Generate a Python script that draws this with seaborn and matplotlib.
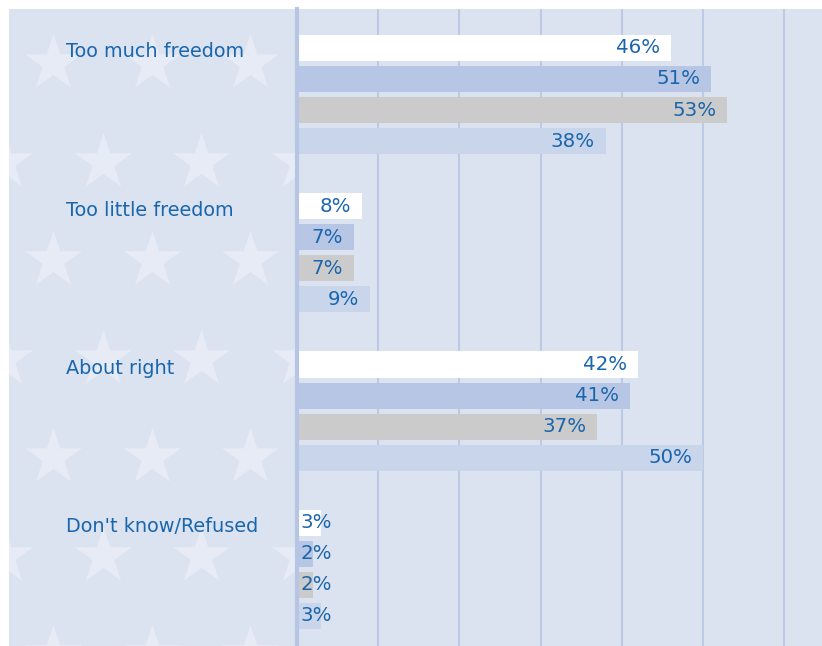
import matplotlib
matplotlib.use("Agg")
import matplotlib.pyplot as plt
import matplotlib.transforms as mtransforms
import pandas as pd
import seaborn as sns

# data
categories = ["Too much freedom", "Too little freedom", "About right", "Don't know/Refused"]
series = ["Series 1", "Series 2", "Series 3", "Series 4"]
series_1 = [46, 8, 42, 3]
series_2 = [51, 7, 41, 2]
series_3 = [53, 7, 37, 2]
series_4 = [38, 9, 50, 3]

bar_colors = ["#ffffff", "#b7c6e4", "#cbcbcb", "#c9d5eb"]
bg = "#dce3f0"
text_color = "#1a66ad"
grid_color = "#bccae5"

rows = []
for name, vals in zip(series, [series_1, series_2, series_3, series_4]):
    for cat, v in zip(categories, vals):
        rows.append({"category": cat, "series": name, "value": v})
df = pd.DataFrame(rows)

sns.set_style("white")
plt.rcParams["font.family"] = ["DejaVu Sans"]

W, H = 822, 646
fig = plt.figure(figsize=(W / 100, H / 100), dpi=100, facecolor="white")

# left decorative panel with stars
ax_l = fig.add_axes([9 / W, 0, 288 / W, 637 / H])
ax_l.set_facecolor(bg)
ax_l.set_xlim(9, 297)
ax_l.set_ylim(646, 9)
pitch = 98.5
sx, sy = [], []
for r in range(-1, 8):
    y = 63 + pitch * r
    off = 53 if r % 2 == 0 else 4
    for c in range(-1, 5):
        sx.append(off + pitch * c)
        sy.append(y)
ax_l.scatter(sx, sy, marker="*", s=43 ** 2, color="#e6ebf5", linewidths=0)
ax_l.set_xticks([])
ax_l.set_yticks([])
for s in ax_l.spines.values():
    s.set_visible(False)

# main bar area
ax = fig.add_axes([297 / W, 0, 525 / W, 637 / H])
ax.set_facecolor(bg)
sns.barplot(
    data=df,
    x="value",
    y="category",
    hue="series",
    hue_order=series,
    order=categories,
    orient="h",
    palette=bar_colors,
    saturation=1,
    width=0.785,
    gap=0.16,
    linewidth=0,
    legend=False,
    ax=ax,
)
ax.set_xlim(0, 525 / 8.12)
ax.set_ylim(3.484, -0.540)
ax.set_xticks([10, 20, 30, 40, 50, 60])
ax.grid(axis="x", color=grid_color, linewidth=1.5)
ax.grid(axis="y", visible=False)
ax.set_axisbelow(True)
ax.tick_params(length=0, labelbottom=False, labelleft=False)
ax.set_xlabel("")
ax.set_ylabel("")
for side in ["top", "right", "bottom"]:
    ax.spines[side].set_visible(False)
ax.spines["left"].set_color("#b5c5e3")
ax.spines["left"].set_linewidth(3)

# value labels
slot = 0.785 / len(series)
for j, name in enumerate(series):
    sub = df[df["series"] == name]
    for i, cat in enumerate(categories):
        v = sub.loc[sub["category"] == cat, "value"].iloc[0]
        y = i - 0.785 / 2 + slot * (j + 0.5)
        if v >= 5:
            ax.text(v - 1.3, y, f"{v}%", ha="right", va="center",
                    fontsize=14.2, color=text_color)
        else:
            ax.text(0.45, y, f"{v}%", ha="left", va="center",
                    fontsize=14.2, color=text_color)

# category labels in the left panel
trans = mtransforms.blended_transform_factory(ax_l.transAxes, ax.transData)
for i, cat in enumerate(categories):
    ax_l.text((66 - 9) / 288, i - 0.27, cat, transform=trans, ha="left",
              va="center", fontsize=13.9, color=text_color)

fig.savefig("out.png", dpi=100, facecolor="white")
